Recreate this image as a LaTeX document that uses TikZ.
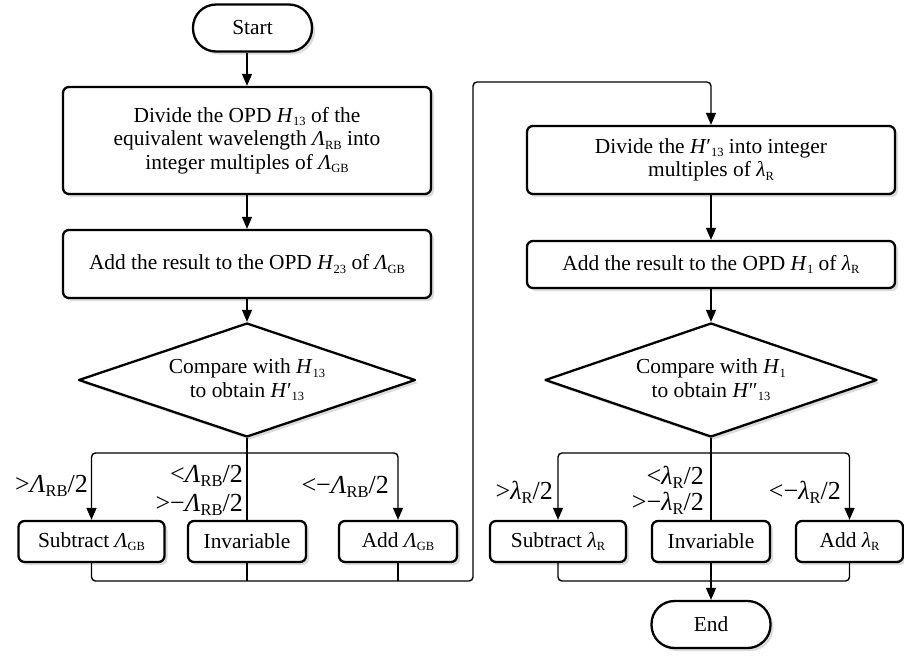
\documentclass[tikz,border=0pt]{standalone}
\usepackage{fontspec}
\setmainfont{Liberation Serif}
\usetikzlibrary{shapes.geometric,arrows.meta,shadows}
\newcommand\lsb[1]{\raisebox{-0.35ex}{\fontsize{12.5}{12.5}\selectfont #1}}
\newcommand\bsb[1]{\raisebox{-0.35ex}{\fontsize{16.5}{16.5}\selectfont #1}}
\newcommand\Lam{\textit{Λ}}
\newcommand\lam{\textit{λ}}
\newcommand\HH{\textit{H}}
\begin{document}
\begin{tikzpicture}[x=1pt,y=-1pt,
  font=\fontsize{21.4}{23.5}\selectfont,
  shad/.style={drop shadow={opacity=0.28,shadow xshift=3pt,shadow yshift=-3pt}},
  box/.style={draw,line width=2.3pt,rounded corners=6pt,fill=white,align=center,inner sep=0pt,shad},
  term/.style={draw,line width=2.3pt,rounded corners=23pt,fill=white,inner sep=0pt,minimum width=119pt,minimum height=47pt,shad},
  dec/.style={draw,diamond,aspect=2.95,line width=2.3pt,line join=round,fill=white,align=center,inner sep=0pt,shad},
  conn/.style={line width=1.4pt,rounded corners=4pt},
  arr/.style={conn,-{Triangle[length=12pt,width=10pt]}},
  lbl/.style={inner sep=0pt,anchor=east,font=\fontsize{26}{28}\selectfont}]
\useasboundingbox (0,0) rectangle (904,657);
% left column
\node[term] (start) at (252.5,28) {Start};
\node[box,minimum width=368pt,minimum height=107pt] (b1) at (247,140.5)
  {Divide the OPD \HH\lsb{13} of the\\ equivalent wavelength \Lam\lsb{RB} into\\ integer multiples of \Lam\lsb{GB}};
\node[box,minimum width=368pt,minimum height=68pt] (b2) at (247,264)
  {Add the result to the OPD \HH\lsb{23} of \Lam\lsb{GB}};
\node[dec,minimum width=337pt,minimum height=114pt] (d1) at (247,380)
  {Compare with \HH\lsb{13}\\ to obtain \HH′\lsb{13}};
\node[box,minimum width=146pt,minimum height=41pt] (s1) at (91.5,541.5) {Subtract \Lam\lsb{GB}};
\node[box,minimum width=118pt,minimum height=41pt] (i1) at (247,541.5) {Invariable};
\node[box,minimum width=118pt,minimum height=41pt] (a1) at (398,541.5) {Add \Lam\lsb{GB}};
% right column
\node[box,minimum width=368pt,minimum height=68pt] (b3) at (711,160)
  {Divide the \HH′\lsb{13} into integer\\ multiples of \lam\lsb{R}};
\node[box,minimum width=368pt,minimum height=47pt] (b4) at (711,264.5)
  {Add the result to the OPD \HH\lsb{1} of \lam\lsb{R}};
\node[dec,minimum width=332pt,minimum height=114pt] (d2) at (711,380)
  {Compare with \HH\lsb{1}\\ to obtain \HH″\lsb{13}};
\node[box,minimum width=136pt,minimum height=41pt] (s2) at (558,541.5) {Subtract \lam\lsb{R}};
\node[box,minimum width=118pt,minimum height=41pt] (i2) at (711,541.5) {Invariable};
\node[box,minimum width=107pt,minimum height=41pt] (a2) at (849.5,541.5) {Add \lam\lsb{R}};
\node[term] (end) at (711,624.5) {End};
% coordinates
\coordinate (t1) at (247,453);
\coordinate (t2) at (711,453);
\coordinate (c1) at (473,581);
\coordinate (c2) at (473,82);
\coordinate (c3) at (711,581);
% connectors left
\draw[arr] (b1.north |- start.south) -- (b1.north);
\draw[arr] (b1.south) -- (b2.north);
\draw[arr] (b2.south) -- (d1.north);
\draw[conn] (d1.south) -- (i1.north);
\draw[arr] (t1) -| (s1.north);
\draw[arr] (t1) -| (a1.north);
\draw[arr] (s1.south) -- (s1.south |- c1) -- (c1) -- (c2) -- (c2 -| b3.north) -- (b3.north);
\draw[conn] (i1.south) -- (i1.south |- c1);
\draw[conn] (a1.south) -- (a1.south |- c1);
% connectors right
\draw[arr] (b3.south) -- (b4.north);
\draw[arr] (b4.south) -- (d2.north);
\draw[conn] (d2.south) -- (i2.north);
\draw[arr] (t2) -| (s2.north);
\draw[arr] (t2) -| (a2.north);
\draw[conn] (s2.south) -- (s2.south |- c3) -- (a2.south |- c3) -- (a2.south);
\draw[arr] (i2.south) -- (end.north);
% labels
\node[lbl] (l1) at (88,486) {>\Lam\bsb{RB}/2};
\node[lbl] (l2) at (243,476) {<\Lam\bsb{RB}/2};
\node[lbl] (l3) at (243,505) {>−\Lam\bsb{RB}/2};
\node[lbl] (l4) at (389,487) {<−\Lam\bsb{RB}/2};
\node[lbl] (l5) at (553,492) {>\lam\bsb{R}/2};
\node[lbl] (l6) at (704,477) {<\lam\bsb{R}/2};
\node[lbl] (l7) at (704,503) {>−\lam\bsb{R}/2};
\node[lbl] (l8) at (841,492) {<−\lam\bsb{R}/2};
\end{tikzpicture}
\end{document}
